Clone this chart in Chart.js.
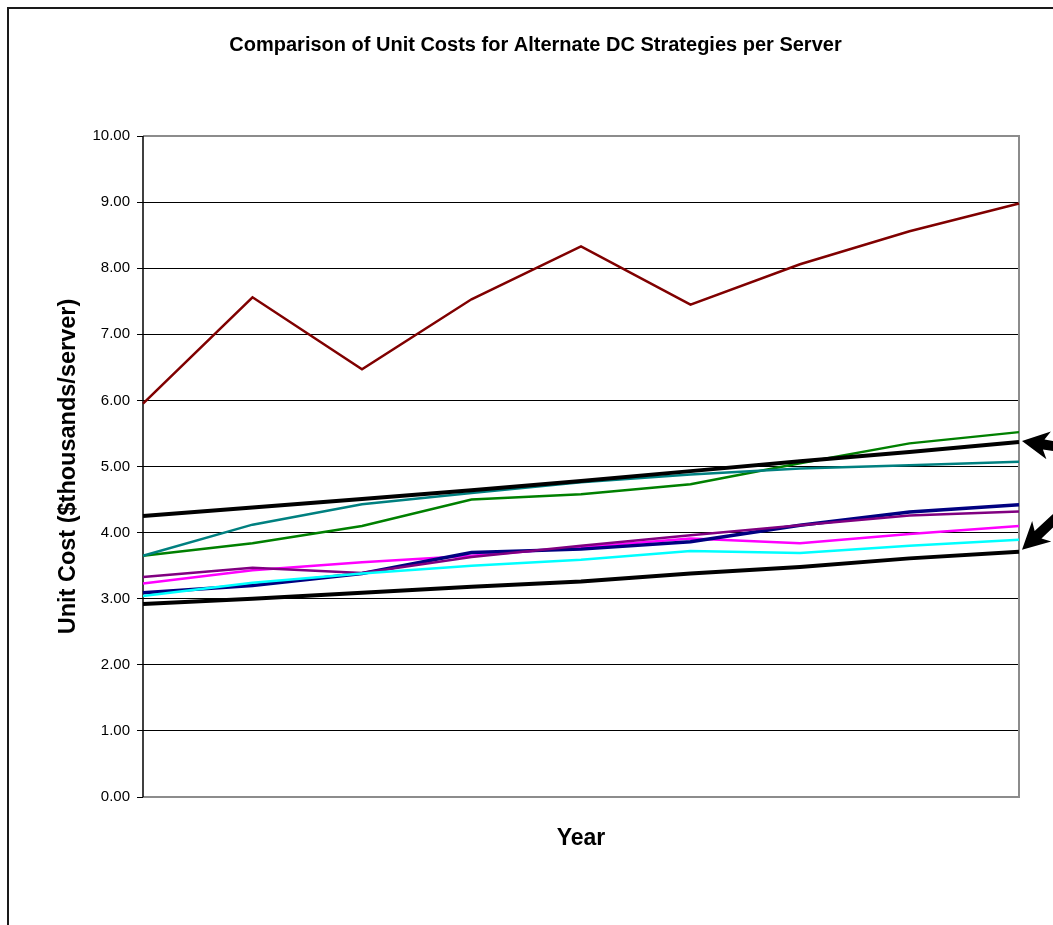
<!DOCTYPE html>
<html>
<head>
<meta charset="utf-8">
<script src="https://cdn.jsdelivr.net/npm/chart.js@4.4.1/dist/chart.umd.min.js"></script>
<style>
  html, body { margin: 0; padding: 0; background: #fff; }
  #wrap { width: 1053px; height: 925px; position: relative; }
</style>
</head>
<body>
<div id="wrap"><canvas id="c" width="1053" height="925"></canvas></div>
<script>
// Years along the horizontal axis (labels are not shown on the axis)
const years = ['Y1', 'Y2', 'Y3', 'Y4', 'Y5', 'Y6', 'Y7', 'Y8', 'Y9'];

// Y axis range and tick step ($ thousands per server)
const yMin = 0;
const yMax = 10;
const yStep = 1;

// Unit cost per server, $ thousands
const strategyA = [5.95, 7.56, 6.47, 7.53, 8.33, 7.45, 8.06, 8.56, 8.98];
const strategyB = [3.65, 3.84, 4.10, 4.50, 4.58, 4.73, 5.05, 5.35, 5.52];
const strategyC = [3.65, 4.12, 4.43, 4.60, 4.76, 4.88, 4.97, 5.02, 5.07];
const referenceHigh = [4.25, 4.38, 4.51, 4.64, 4.78, 4.93, 5.08, 5.22, 5.37];
const strategyD = [3.09, 3.20, 3.38, 3.70, 3.75, 3.86, 4.11, 4.31, 4.42];
const strategyE = [3.33, 3.47, 3.39, 3.63, 3.80, 3.96, 4.11, 4.26, 4.32];
const strategyF = [3.23, 3.43, 3.55, 3.65, 3.78, 3.91, 3.84, 3.98, 4.10];
const strategyG = [3.04, 3.24, 3.38, 3.50, 3.59, 3.72, 3.69, 3.80, 3.89];
const referenceLow = [2.92, 3.00, 3.09, 3.18, 3.26, 3.38, 3.48, 3.61, 3.71];

const titleText = 'Comparison of Unit Costs for Alternate DC Strategies per Server';
const yTitle = 'Unit Cost ($thousands/server)';
const xTitle = 'Year';

Chart.defaults.font.family = "'Liberation Sans', Arial, sans-serif";
Chart.defaults.color = '#000';

function line(label, data, color, width) {
  return {
    label, data,
    borderColor: color,
    backgroundColor: color,
    borderWidth: width,
    pointRadius: 0,
    pointHoverRadius: 0,
    tension: 0,
    fill: false,
    borderJoinStyle: 'miter'
  };
}

// Outer frame of the chart object
const framePlugin = {
  id: 'frame',
  beforeDraw(chart) {
    const ctx = chart.ctx;
    ctx.save();
    ctx.fillStyle = '#fff';
    ctx.fillRect(0, 0, chart.width, chart.height);
    ctx.strokeStyle = '#1a1a1a';
    ctx.lineWidth = 2;
    ctx.strokeRect(8, 8, chart.width + 100, chart.height + 100);
    ctx.restore();
  }
};

// Grey border round the plot area (top, right, bottom), black value axis on the left
const plotBorderPlugin = {
  id: 'plotBorder',
  beforeDatasetsDraw(chart) {
    const { ctx, chartArea: a } = chart;
    ctx.save();
    ctx.strokeStyle = '#8c8c8c';
    ctx.lineWidth = 2;
    ctx.beginPath();
    ctx.moveTo(a.left, a.top);
    ctx.lineTo(a.right, a.top);
    ctx.lineTo(a.right, a.bottom);
    ctx.lineTo(a.left, a.bottom);
    ctx.stroke();
    ctx.strokeStyle = '#000';
    ctx.lineWidth = 1.5;
    ctx.beginPath();
    ctx.moveTo(a.left, a.top);
    ctx.lineTo(a.left, a.bottom);
    ctx.stroke();
    ctx.restore();
  }
};

// Arrows pointing at the end of the two reference lines
function drawArrow(ctx, tipX, tipY, dx, dy) {
  const len = Math.hypot(dx, dy);
  const ux = dx / len, uy = dy / len;     // from tip toward tail
  const px = -uy, py = ux;                // perpendicular
  const headLen = 27, headHalf = 14, shaftHalf = 5, total = 75;
  const bx = tipX + ux * headLen, by = tipY + uy * headLen;
  const ex = tipX + ux * total, ey = tipY + uy * total;
  ctx.beginPath();
  ctx.moveTo(tipX, tipY);
  ctx.lineTo(bx + px * headHalf, by + py * headHalf);
  ctx.lineTo(bx - ux * 5 + px * shaftHalf, by - uy * 5 + py * shaftHalf);
  ctx.lineTo(ex + px * shaftHalf, ey + py * shaftHalf);
  ctx.lineTo(ex - px * shaftHalf, ey - py * shaftHalf);
  ctx.lineTo(bx - ux * 5 - px * shaftHalf, by - uy * 5 - py * shaftHalf);
  ctx.lineTo(bx - px * headHalf, by - py * headHalf);
  ctx.closePath();
  ctx.fill();
}

const arrowPlugin = {
  id: 'arrows',
  afterDraw(chart) {
    const { ctx, chartArea: a, scales: { y } } = chart;
    const last = years.length - 1;
    ctx.save();
    ctx.fillStyle = '#000';
    drawArrow(ctx, a.right + 3, y.getPixelForValue(referenceHigh[last]) - 1, 31, 5);
    drawArrow(ctx, a.right + 3, y.getPixelForValue(referenceLow[last]) - 2, 31, -29);
    ctx.restore();
  }
};

new Chart(document.getElementById('c'), {
  type: 'line',
  data: {
    labels: years,
    datasets: [
      line('Reference (high)', referenceHigh, '#000000', 4),
      line('Reference (low)', referenceLow, '#000000', 4),
      line('Strategy G', strategyG, '#00FFFF', 2.5),
      line('Strategy E', strategyE, '#800080', 2.5),
      line('Strategy D', strategyD, '#000080', 3.5),
      line('Strategy F', strategyF, '#FF00FF', 2.5),
      line('Strategy C', strategyC, '#008080', 2.5),
      line('Strategy B', strategyB, '#008000', 2.5),
      line('Strategy A', strategyA, '#800000', 2.5)
    ]
  },
  options: {
    responsive: false,
    animation: false,
    events: [],
    layout: { padding: { left: 52, right: 34, top: 0, bottom: 0 } },
    plugins: {
      legend: { display: false },
      tooltip: { enabled: false },
      title: {
        display: true,
        text: titleText,
        color: '#000',
        font: { size: 20, weight: 'bold', lineHeight: 1.2 },
        padding: { top: 33, bottom: 79 }
      }
    },
    scales: {
      x: {
        type: 'category',
        offset: false,
        grid: { display: false },
        border: { display: false },
        ticks: { display: false },
        title: {
          display: true,
          text: xTitle,
          color: '#000',
          font: { size: 23, weight: 'bold', lineHeight: 1.2 },
          padding: { top: 0, bottom: 73 }
        },
        afterFit(scale) { scale.height = 128; }
      },
      y: {
        min: yMin,
        max: yMax,
        grid: { color: '#000', lineWidth: 1, drawTicks: true, tickLength: 6, tickColor: '#000' },
        border: { display: false },
        ticks: {
          stepSize: yStep,
          padding: 7,
          color: '#000',
          font: { size: 15 },
          callback: v => Number(v).toFixed(2)
        },
        title: {
          display: true,
          text: yTitle,
          color: '#000',
          font: { size: 23.5, weight: 'bold', lineHeight: 1.2 },
          padding: { top: 2, bottom: 0 }
        },
        afterFit(scale) { scale.width = 91; }
      }
    }
  },
  plugins: [framePlugin, plotBorderPlugin, arrowPlugin]
});
</script>
</body>
</html>
